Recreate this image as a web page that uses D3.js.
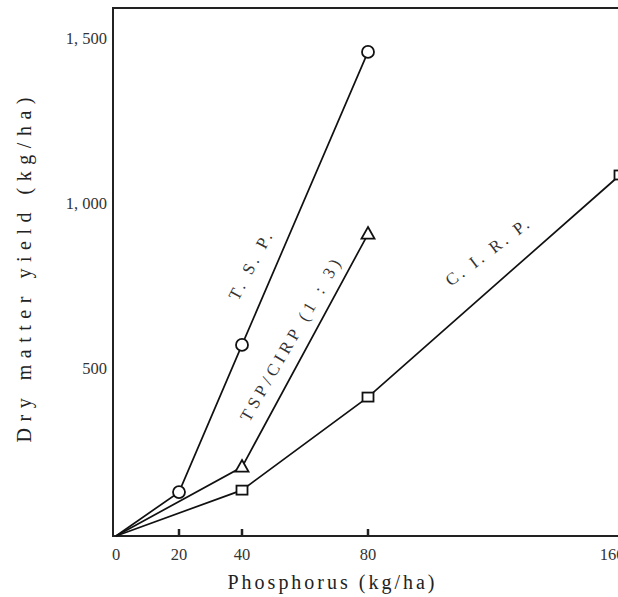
<!DOCTYPE html>
<html>
<head>
<meta charset="utf-8">
<script src="https://cdn.jsdelivr.net/npm/d3@7"></script>
<style>
  body { margin: 0; background: #fff; }
  svg { display: block; }
</style>
</head>
<body>
<div id="chart"></div>
<script>
// phosphorus rates (kg/ha) and dry matter yield (kg/ha) per source
const tspRates = [0, 20, 40, 80];
const tspYield = [0, 133, 579, 1467];
const mixRates = [0, 40, 80];
const mixYield = [0, 209, 915];
const cirpRates = [0, 40, 80, 160];
const cirpYield = [0, 139, 421, 1094];

const xTicks = [0, 20, 40, 80, 160];
const xTickMarks = [20, 40, 80];
const yTicks = [500, 1000, 1500];
const yTickLabels = ["500", "1, 000", "1, 500"];

const width = 618, height = 597;
const serif = "'Liberation Serif', 'DejaVu Serif', serif";

const x = d3.scaleLinear().domain([0, 160]).range([116, 620]);
const y = d3.scaleLinear().domain([0, 1600]).range([536, 8]);

const svg = d3.select("#chart").append("svg")
    .attr("width", width)
    .attr("height", height)
    .attr("font-family", serif);

// frame: top, left, bottom
svg.append("path")
    .attr("d", `M ${x(160) + 10} ${y(1600)} H ${x(0) - 3} V ${y(0)} H ${x(160) + 10}`)
    .attr("stroke", "#222")
    .attr("stroke-width", 2)
    .attr("fill", "none");

// x tick marks pointing inward
svg.append("g").selectAll("line")
  .data(xTickMarks)
  .join("line")
    .attr("x1", d => x(d)).attr("x2", d => x(d))
    .attr("y1", y(0)).attr("y2", y(0) - 7)
    .attr("stroke", "#222")
    .attr("stroke-width", 2.5);

// tick labels
svg.append("g").selectAll("text")
  .data(xTicks)
  .join("text")
    .attr("x", d => d === 160 ? x(d) - 8 : x(d))
    .attr("y", 560)
    .attr("text-anchor", "middle")
    .attr("font-size", 16.5)
    .attr("fill", "#333")
    .text(d => d);

svg.append("g").selectAll("text")
  .data(yTicks)
  .join("text")
    .attr("x", 107)
    .attr("y", d => y(d))
    .attr("dy", "0.2em")
    .attr("text-anchor", "end")
    .attr("font-size", 16.5)
    .attr("fill", "#333")
    .text((d, i) => yTickLabels[i]);

// axis titles
svg.append("text")
    .attr("x", 331)
    .attr("y", 589)
    .attr("text-anchor", "middle")
    .attr("font-size", 20)
    .attr("fill", "#222")
    .attr("textLength", 207)
    .attr("lengthAdjust", "spacing")
    .text("Phosphorus (kg/ha)");

svg.append("text")
    .attr("transform", "translate(31,270) rotate(-90)")
    .attr("text-anchor", "middle")
    .attr("font-size", 20)
    .attr("fill", "#222")
    .attr("textLength", 345)
    .attr("lengthAdjust", "spacing")
    .text("Dry matter yield (kg/ha)");

const line = d3.line();

function drawSeries(rates, yields) {
  const pts = rates.map((r, i) => [x(r), y(yields[i])]);
  svg.append("path")
      .attr("d", line(pts))
      .attr("fill", "none")
      .attr("stroke", "#111")
      .attr("stroke-width", 1.7);
  return pts.slice(1);
}

const tspPts = drawSeries(tspRates, tspYield);
const mixPts = drawSeries(mixRates, mixYield);
const cirpPts = drawSeries(cirpRates, cirpYield);

const markerStyle = sel => sel
    .attr("fill", "#fff")
    .attr("stroke", "#111")
    .attr("stroke-width", 1.8);

svg.append("g").selectAll("circle")
  .data(tspPts)
  .join("circle")
    .attr("cx", d => d[0])
    .attr("cy", d => d[1])
    .attr("r", 6)
    .call(markerStyle);

svg.append("g").selectAll("path")
  .data(mixPts)
  .join("path")
    .attr("d", d => `M ${d[0]} ${d[1] - 7} L ${d[0] + 6.5} ${d[1] + 4.5} L ${d[0] - 6.5} ${d[1] + 4.5} Z`)
    .call(markerStyle);

svg.append("g").selectAll("rect")
  .data(cirpPts)
  .join("rect")
    .attr("x", d => d[0] - 5.5)
    .attr("y", d => d[1] - 4.5)
    .attr("width", 11)
    .attr("height", 9)
    .call(markerStyle);

// series labels along the lines
const labels = [
  {text: "T. S. P.", cx: 250, cy: 266, angle: -62, len: 74},
  {text: "TSP/CIRP (1 : 3)", cx: 290, cy: 340, angle: -60, len: 184},
  {text: "C. I. R. P.", cx: 487, cy: 252, angle: -37, len: 100}
];

svg.append("g").selectAll("text")
  .data(labels)
  .join("text")
    .attr("transform", d => `translate(${d.cx},${d.cy}) rotate(${d.angle})`)
    .attr("text-anchor", "middle")
    .attr("dy", "0.35em")
    .attr("font-size", 17)
    .attr("fill", "#333")
    .attr("textLength", d => d.len)
    .attr("lengthAdjust", "spacing")
    .text(d => d.text);
</script>
</body>
</html>
